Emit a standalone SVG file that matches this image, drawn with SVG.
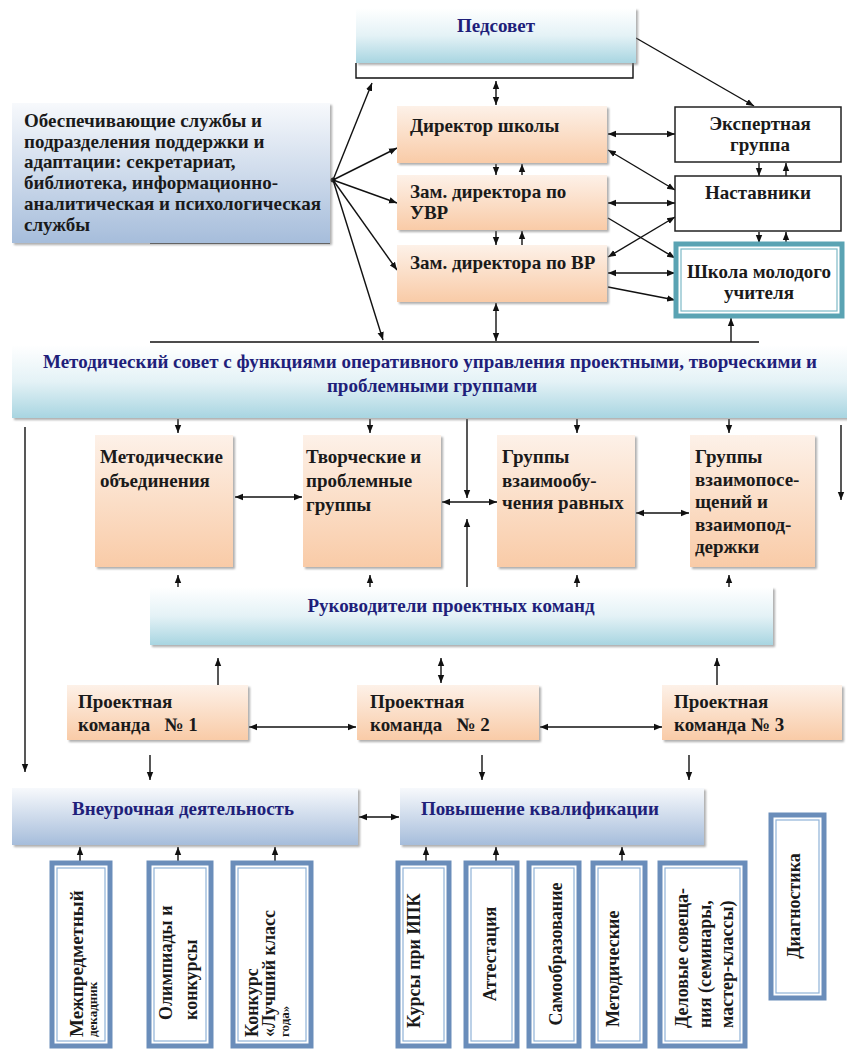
<svg xmlns="http://www.w3.org/2000/svg" width="847" height="1050" viewBox="0 0 847 1050">
<style>
text{font-family:"Liberation Serif","Times New Roman",serif;font-weight:bold;font-size:19px;fill:#1a1a1a}
.nv{fill:#1f1f7a}
.mid{text-anchor:middle}
.sm{font-size:18px}
.xs{font-size:13px}
.or{fill:url(#gOr);filter:url(#sh)}
.tl{fill:url(#gTl);filter:url(#sh)}
.st{fill:url(#gSt);filter:url(#sh)}
.wb{fill:#fff;stroke:#222;stroke-width:1.5}
.vb{fill:#fff;stroke:#6a8dba;stroke-width:5}
.vi{fill:none;stroke:#8fb2d8;stroke-width:1.2}
.ln{stroke:#111;stroke-width:1.4;fill:none}
.a1{marker-end:url(#ah)}
.a2{marker-start:url(#ah);marker-end:url(#ah)}
</style>
<defs>
<linearGradient id="gOr" x1="0" y1="0" x2="0" y2="1"><stop offset="0" stop-color="#fdf1e8"/><stop offset="1" stop-color="#f9cba7"/></linearGradient>
<linearGradient id="gTl" x1="0" y1="0" x2="0" y2="1"><stop offset="0" stop-color="#ffffff"/><stop offset="0.5" stop-color="#e4f2f6"/><stop offset="1" stop-color="#a8d5e1"/></linearGradient>
<linearGradient id="gSt" x1="0" y1="0" x2="0" y2="1"><stop offset="0" stop-color="#f7f9fc"/><stop offset="1" stop-color="#a6bddb"/></linearGradient>
<filter id="sh" x="-5%" y="-10%" width="115%" height="130%"><feDropShadow dx="2" dy="2" stdDeviation="1.2" flood-color="#777" flood-opacity="0.6"/></filter>
<marker id="ah" viewBox="0 0 10 10" refX="10" refY="5" markerWidth="8" markerHeight="8" markerUnits="userSpaceOnUse" orient="auto-start-reverse"><path d="M0,1 L10,5 L0,9 z" fill="#111"/></marker>
</defs>

<g id="connectors">
<path class="ln" d="M356,63 V78 H633 V63"/>
<path class="ln" d="M150,243 H330"/>
<path class="ln" d="M150,342 H759"/>
<line class="ln a2" x1="496" y1="81" x2="496" y2="105"/>
<line class="ln a1" x1="636" y1="38" x2="754" y2="106"/>
<line class="ln a1" x1="496" y1="164" x2="496" y2="175"/>
<line class="ln a1" x1="522" y1="175" x2="522" y2="164"/>
<line class="ln a1" x1="496" y1="231" x2="496" y2="245"/>
<line class="ln a1" x1="522" y1="245" x2="522" y2="231"/>
<line class="ln a2" x1="496" y1="303" x2="496" y2="341"/>
<line class="ln a1" x1="731" y1="342" x2="731" y2="318"/>
<line class="ln a1" x1="333" y1="180" x2="372" y2="83"/>
<line class="ln a1" x1="333" y1="180" x2="397" y2="148"/>
<line class="ln a1" x1="333" y1="180" x2="397" y2="203"/>
<line class="ln a1" x1="333" y1="180" x2="397" y2="270"/>
<line class="ln a1" x1="333" y1="180" x2="383" y2="340"/>
<circle cx="333" cy="180" r="2.5" fill="#111"/>
<line class="ln a2" x1="608" y1="134" x2="675" y2="134"/>
<line class="ln a2" x1="608" y1="150" x2="675" y2="190"/>
<line class="ln a2" x1="608" y1="203" x2="675" y2="203"/>
<line class="ln a1" x1="608" y1="218" x2="675" y2="258"/>
<line class="ln a2" x1="608" y1="257" x2="675" y2="217"/>
<line class="ln a2" x1="608" y1="273" x2="675" y2="273"/>
<line class="ln a1" x1="608" y1="287" x2="675" y2="300"/>
<line class="ln a1" x1="759" y1="163" x2="759" y2="176"/>
<line class="ln a1" x1="786" y1="176" x2="786" y2="163"/>
<line class="ln a1" x1="759" y1="232" x2="759" y2="243"/>
<line class="ln a1" x1="786" y1="243" x2="786" y2="232"/>
<line class="ln a1" x1="25" y1="427" x2="25" y2="772"/>
<line class="ln a1" x1="841" y1="425" x2="841" y2="500"/>
<line class="ln a1" x1="178" y1="419" x2="178" y2="433"/>
<line class="ln a1" x1="370" y1="419" x2="370" y2="433"/>
<line class="ln a1" x1="577" y1="419" x2="577" y2="433"/>
<line class="ln a1" x1="729" y1="419" x2="729" y2="433"/>
<line class="ln a2" x1="235" y1="497" x2="302" y2="497"/>
<line class="ln a1" x1="467" y1="419" x2="467" y2="498"/>
<line class="ln a2" x1="442" y1="502" x2="497" y2="502"/>
<line class="ln a1" x1="467" y1="600" x2="467" y2="519"/>
<line class="ln a2" x1="636" y1="513" x2="689" y2="513"/>
<line class="ln a2" x1="178" y1="575" x2="178" y2="601"/>
<line class="ln a2" x1="370" y1="575" x2="370" y2="601"/>
<line class="ln a2" x1="577" y1="575" x2="577" y2="601"/>
<line class="ln a2" x1="729" y1="575" x2="729" y2="601"/>
<line class="ln a2" x1="218" y1="658" x2="218" y2="697"/>
<line class="ln a2" x1="441" y1="658" x2="441" y2="683"/>
<line class="ln a2" x1="717" y1="658" x2="717" y2="697"/>
<line class="ln a2" x1="249" y1="727" x2="356" y2="727"/>
<line class="ln a2" x1="540" y1="727" x2="662" y2="727"/>
<line class="ln a1" x1="150" y1="755" x2="150" y2="780"/>
<line class="ln a1" x1="482" y1="755" x2="482" y2="780"/>
<line class="ln a1" x1="689" y1="755" x2="689" y2="780"/>
<line class="ln a2" x1="359" y1="817" x2="399" y2="817"/>
<line class="ln a2" x1="80" y1="847" x2="80" y2="870"/>
<line class="ln a2" x1="178" y1="847" x2="178" y2="870"/>
<line class="ln a2" x1="275" y1="847" x2="275" y2="870"/>
<line class="ln a2" x1="426" y1="847" x2="426" y2="870"/>
<line class="ln a2" x1="496" y1="847" x2="496" y2="870"/>
<line class="ln a2" x1="622" y1="847" x2="622" y2="870"/>
</g>

<g id="pedsovet"><rect class="tl" x="356" y="8" width="280" height="55"/><text class="nv mid" x="496" y="32">Педсовет</text></g>

<g id="services"><rect class="st" x="12" y="103" width="318" height="140"/>
<text x="24" y="127">Обеспечивающие службы и</text>
<text x="24" y="148">подразделения поддержки и</text>
<text x="24" y="168">адаптации: секретариат,</text>
<text x="24" y="189">библиотека, информационно-</text>
<text x="24" y="210">аналитическая и психологическая</text>
<text x="24" y="231">службы</text></g>

<g id="director"><rect class="or" x="397" y="106" width="210" height="57"/><text x="410" y="132">Директор школы</text></g>
<g id="zam-uvr"><rect class="or" x="397" y="175" width="210" height="55"/><text x="410" y="198">Зам. директора по</text><text x="410" y="219">УВР</text></g>
<g id="zam-vr"><rect class="or" x="397" y="245" width="210" height="57"/><text x="410" y="269">Зам. директора по ВР</text></g>

<g id="expert"><rect class="wb" x="675" y="107" width="166" height="55"/><text class="mid" x="760" y="130">Экспертная</text><text class="mid" x="760" y="151">группа</text></g>
<g id="mentors"><rect class="wb" x="675" y="176" width="166" height="55"/><text class="mid" x="758" y="199">Наставники</text></g>
<g id="young-teacher"><rect x="676" y="244" width="166" height="72" fill="#fff" stroke="#5aa3b3" stroke-width="5"/><rect x="681" y="249" width="156" height="62" fill="none" stroke="#7dbac7" stroke-width="1.2"/><text class="mid" x="759" y="278">Школа молодого</text><text class="mid" x="759" y="299">учителя</text></g>

<g id="council"><rect class="tl" x="12" y="345" width="835" height="73"/>
<text class="nv" x="43" y="368">Методический совет с функциями оперативного управления проектными, творческими и</text>
<text class="nv mid" x="432" y="392">проблемными группами</text></g>

<g id="mo"><rect class="or" x="95" y="435" width="138" height="132"/><text x="100" y="463">Методические</text><text x="100" y="487">объединения</text></g>
<g id="creative"><rect class="or" x="303" y="435" width="138" height="132"/><text x="306" y="463">Творческие и</text><text x="306" y="487">проблемные</text><text x="306" y="511">группы</text></g>
<g id="peer-learning"><rect class="or" x="497" y="435" width="138" height="132"/><text x="502" y="463">Группы</text><text x="502" y="487">взаимообу-</text><text x="502" y="509">чения равных</text></g>
<g id="peer-visits"><rect class="or" x="690" y="435" width="125" height="132"/><text x="695" y="463">Группы</text><text x="695" y="486">взаимопосе-</text><text x="695" y="508">щений и</text><text x="695" y="531">взаимопод-</text><text x="695" y="553">держки</text></g>

<g id="leaders"><rect class="tl" x="150" y="587" width="623" height="58"/><text class="nv mid" x="451" y="612">Руководители проектных команд</text></g>

<g id="team1"><rect class="or" x="67" y="685" width="181" height="55"/><text x="78" y="708">Проектная</text><text x="78" y="731" xml:space="preserve">команда   № 1</text></g>
<g id="team2"><rect class="or" x="357" y="685" width="182" height="55"/><text x="370" y="708">Проектная</text><text x="370" y="731" xml:space="preserve">команда   № 2</text></g>
<g id="team3"><rect class="or" x="662" y="685" width="180" height="55"/><text x="674" y="708">Проектная</text><text x="674" y="731">команда № 3</text></g>

<g id="extracurricular"><rect class="st" x="12" y="788" width="346" height="57"/><text class="nv mid" x="183" y="815">Внеурочная деятельность</text></g>
<g id="qualification"><rect class="st" x="400" y="788" width="304" height="57"/><text class="nv mid" x="540" y="815">Повышение квалификации</text></g>

<g id="b-decade"><rect class="vb" x="52" y="863" width="58" height="183"/><rect class="vi" x="57" y="868" width="48" height="173"/>
<text transform="translate(83,1037) rotate(-90)">Межпредметный</text>
<text transform="translate(97,1037) rotate(-90)" class="xs">декадник</text></g>
<g id="b-olymp"><rect class="vb" x="149" y="863" width="62" height="183"/><rect class="vi" x="154" y="868" width="52" height="173"/>
<text transform="translate(172,1020) rotate(-90)" class="sm">Олимпиады и</text>
<text transform="translate(197,1020) rotate(-90)" class="sm">конкурсы</text></g>
<g id="b-class"><rect class="vb" x="233" y="863" width="78" height="183"/><rect class="vi" x="238" y="868" width="68" height="173"/>
<text transform="translate(258,1037) rotate(-90)" class="sm">Конкурс</text>
<text transform="translate(275,1037) rotate(-90)" class="sm">«Лучший класс</text>
<text transform="translate(289,1037) rotate(-90)" class="xs">года»</text></g>
<g id="b-courses"><rect class="vb" x="398" y="863" width="51" height="183"/><rect class="vi" x="403" y="868" width="41" height="173"/>
<text transform="translate(420,1028) rotate(-90)" class="sm">Курсы при ИПК</text></g>
<g id="b-attest"><rect class="vb" x="466" y="863" width="51" height="183"/><rect class="vi" x="471" y="868" width="41" height="173"/>
<text transform="translate(496,954) rotate(-90)" class="sm mid">Аттестация</text></g>
<g id="b-self"><rect class="vb" x="529" y="863" width="50" height="183"/><rect class="vi" x="534" y="868" width="40" height="173"/>
<text transform="translate(562,954) rotate(-90)" class="sm mid">Самообразование</text></g>
<g id="b-method"><rect class="vb" x="593" y="863" width="52" height="183"/><rect class="vi" x="598" y="868" width="42" height="173"/>
<text transform="translate(619,1027) rotate(-90)" class="sm">Методические</text></g>
<g id="b-business"><rect class="vb" x="660" y="863" width="85" height="183"/><rect class="vi" x="665" y="868" width="75" height="173"/>
<text transform="translate(688,1028) rotate(-90)" class="sm">Деловые совеща-</text>
<text transform="translate(711,1028) rotate(-90)" class="sm">ния (семинары,</text>
<text transform="translate(733,1028) rotate(-90)" class="sm">мастер-классы)</text></g>
<g id="b-diag"><rect class="vb" x="771" y="815" width="53" height="183"/><rect class="vi" x="776" y="820" width="43" height="173"/>
<text transform="translate(800,906) rotate(-90)" class="sm mid">Диагностика</text></g>
</svg>
